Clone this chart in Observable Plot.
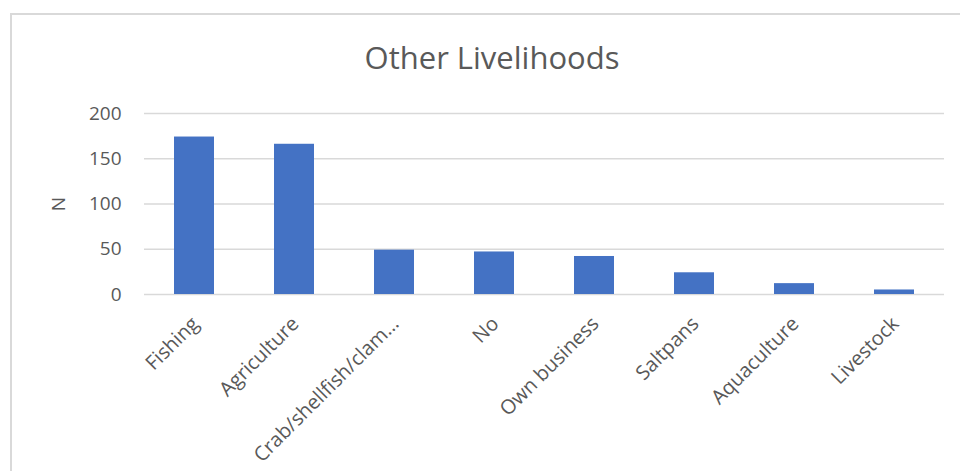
<!DOCTYPE html>
<html>
<head>
<meta charset="utf-8">
<script src="https://cdn.jsdelivr.net/npm/d3@7"></script>
<script src="https://cdn.jsdelivr.net/npm/@observablehq/plot@0.6"></script>
<style>
  html, body { margin: 0; padding: 0; background: #ffffff; }
  #wrap { position: relative; width: 960px; height: 471px; overflow: hidden; background: #ffffff; }
  #frame { position: absolute; left: 10px; top: 13px; width: 980px; height: 500px;
           border: 2px solid #d9d9d9; box-sizing: border-box; }
  #title { position: absolute; left: 0; width: 984px; top: 42px; text-align: center;
           font-family: "Open Sans", sans-serif; font-size: 31px; line-height: 31px;
           color: #595959; white-space: nowrap; }
  #chart { position: absolute; left: 0; top: 0; }
</style>
</head>
<body>
<div id="wrap">
  <div id="frame"></div>
  <div id="title">Other Livelihoods</div>
  <div id="chart"></div>
</div>
<script>
// Respondents by other livelihood (count N)
const categories = ["Fishing", "Agriculture", "Crab/shellfish/clam…", "No", "Own business", "Saltpans", "Aquaculture", "Livestock"];
const counts = [174, 166, 49, 47, 42, 24, 12, 5];
const yTicks = [0, 50, 100, 150, 200];

const rows = categories.map((c, i) => ({category: c, n: counts[i]}));

const chart = Plot.plot({
  width: 960,
  height: 471,
  marginTop: 113,
  marginBottom: 177,
  marginLeft: 144,
  marginRight: 16,
  style: {fontFamily: "'Open Sans', sans-serif", color: "#595959", background: "transparent", overflow: "visible"},
  x: {domain: categories, paddingInner: 0.6, paddingOuter: 0.3, axis: null},
  y: {domain: [0, 200], axis: null},
  marks: [
    Plot.gridY(yTicks, {stroke: "#d9d9d9", strokeOpacity: 1, strokeWidth: 1.3}),
    Plot.barY(rows, {x: "category", y: "n", fill: "#4472C4"}),
    Plot.axisY(yTicks, {tickSize: 0, tickPadding: 23, fontSize: 19, fill: "#595959",
      label: "N", labelAnchor: "center", labelOffset: 93, labelArrow: "none"}),
    Plot.axisX({tickSize: 0, tickRotate: -45, tickPadding: 26, dx: 1, fontSize: 20, fill: "#595959", label: null})
  ]
});
document.getElementById("chart").appendChild(chart);
</script>
</body>
</html>
